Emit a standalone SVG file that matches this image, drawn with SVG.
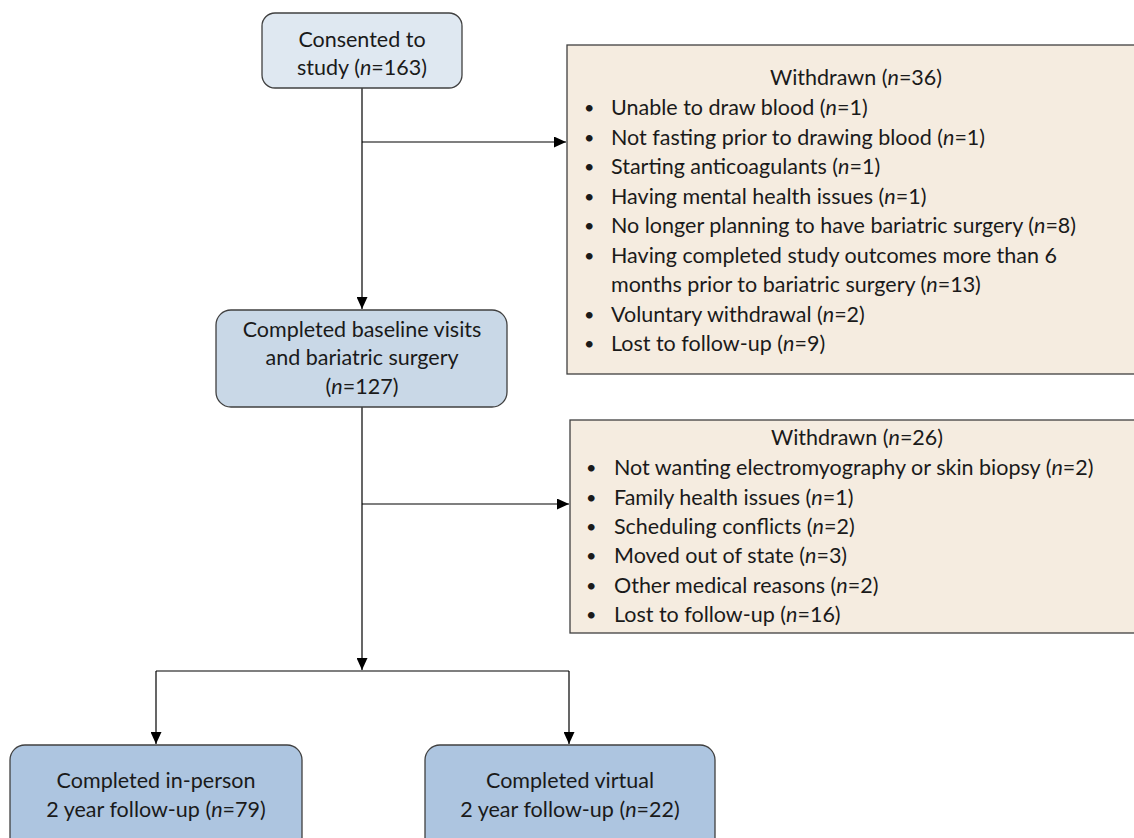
<svg xmlns="http://www.w3.org/2000/svg" width="1134" height="838" viewBox="0 0 1134 838">
<style>
text{font-family:Lato,"Open Sans","Liberation Sans",sans-serif;font-size:21.5px;fill:#1a1a1a}
.c{text-anchor:middle}
.i{font-style:italic}
.bu{font-size:18px}
.box{stroke:#404040;stroke-width:1.3}
.w{fill:#f5ece0}
.b1{fill:#dfe8f1}
.b2{fill:#c9d8e7}
.b3{fill:#adc5e0}
.ln{stroke:#000;stroke-width:1.2;fill:none}
</style>
<defs>
<marker id="ah" markerWidth="12" markerHeight="11" refX="12" refY="5.5" orient="auto" markerUnits="userSpaceOnUse">
<path d="M0,0 L12,5.5 L0,11 Z" fill="#000"/>
</marker>
</defs>
<g id="connectors">
<line class="ln" x1="362" y1="88" x2="362" y2="309" marker-end="url(#ah)"/>
<line class="ln" x1="362" y1="142" x2="566" y2="142" marker-end="url(#ah)"/>
<line class="ln" x1="362" y1="407" x2="362" y2="670" marker-end="url(#ah)"/>
<line class="ln" x1="362" y1="504" x2="569" y2="504" marker-end="url(#ah)"/>
<line class="ln" x1="156" y1="671" x2="569" y2="671"/>
<line class="ln" x1="156" y1="671" x2="156" y2="744" marker-end="url(#ah)"/>
<line class="ln" x1="569" y1="671" x2="569" y2="744" marker-end="url(#ah)"/>
</g>
<g id="consented">
<rect class="box b1" x="262" y="13" width="200" height="75" rx="13"/>
<text class="c" x="362" y="47">Consented to</text>
<text class="c" x="362" y="75">study (<tspan class="i">n</tspan>=163)</text>
</g>
<g id="withdrawn1">
<rect class="box w" x="567" y="45" width="580" height="329"/>
<text class="c" x="856" y="85">Withdrawn (<tspan class="i">n</tspan>=36)</text>
<text class="bu" x="584" y="114">•</text><text x="611" y="115">Unable to draw blood (<tspan class="i">n</tspan>=1)</text>
<text class="bu" x="584" y="143.5">•</text><text x="611" y="144.5">Not fasting prior to drawing blood (<tspan class="i">n</tspan>=1)</text>
<text class="bu" x="584" y="173">•</text><text x="611" y="174">Starting anticoagulants (<tspan class="i">n</tspan>=1)</text>
<text class="bu" x="584" y="202.5">•</text><text x="611" y="203.5">Having mental health issues (<tspan class="i">n</tspan>=1)</text>
<text class="bu" x="584" y="232">•</text><text x="611" y="233">No longer planning to have bariatric surgery (<tspan class="i">n</tspan>=8)</text>
<text class="bu" x="584" y="261.5">•</text><text x="611" y="262.5">Having completed study outcomes more than 6</text>
<text x="611" y="292">months prior to bariatric surgery (<tspan class="i">n</tspan>=13)</text>
<text class="bu" x="584" y="320.5">•</text><text x="611" y="321.5">Voluntary withdrawal (<tspan class="i">n</tspan>=2)</text>
<text class="bu" x="584" y="350">•</text><text x="611" y="351">Lost to follow-up (<tspan class="i">n</tspan>=9)</text>
</g>
<g id="baseline">
<rect class="box b2" x="216" y="310" width="291" height="97" rx="15"/>
<text class="c" x="362" y="337">Completed baseline visits</text>
<text class="c" x="362" y="365">and bariatric surgery</text>
<text class="c" x="362" y="394">(<tspan class="i">n</tspan>=127)</text>
</g>
<g id="withdrawn2">
<rect class="box w" x="570" y="420" width="580" height="213"/>
<text class="c" x="857" y="445">Withdrawn (<tspan class="i">n</tspan>=26)</text>
<text class="bu" x="586" y="474">•</text><text x="614" y="475">Not wanting electromyography or skin biopsy (<tspan class="i">n</tspan>=2)</text>
<text class="bu" x="586" y="503.5">•</text><text x="614" y="504.5">Family health issues (<tspan class="i">n</tspan>=1)</text>
<text class="bu" x="586" y="533">•</text><text x="614" y="534">Scheduling conflicts (<tspan class="i">n</tspan>=2)</text>
<text class="bu" x="586" y="562">•</text><text x="614" y="563">Moved out of state (<tspan class="i">n</tspan>=3)</text>
<text class="bu" x="586" y="591.5">•</text><text x="614" y="592.5">Other medical reasons (<tspan class="i">n</tspan>=2)</text>
<text class="bu" x="586" y="621">•</text><text x="614" y="622">Lost to follow-up (<tspan class="i">n</tspan>=16)</text>
</g>
<g id="inperson">
<rect class="box b3" x="10" y="745" width="292" height="110" rx="15"/>
<text class="c" x="156" y="788">Completed in-person</text>
<text class="c" x="156" y="817">2 year follow-up (<tspan class="i">n</tspan>=79)</text>
</g>
<g id="virtual">
<rect class="box b3" x="425" y="745" width="290" height="110" rx="15"/>
<text class="c" x="570" y="788">Completed virtual</text>
<text class="c" x="570" y="817">2 year follow-up (<tspan class="i">n</tspan>=22)</text>
</g>
</svg>
